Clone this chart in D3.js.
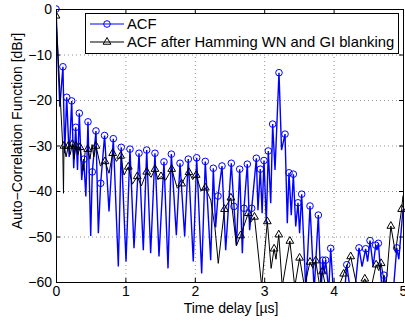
<!DOCTYPE html>
<html lang="en">
<head>
	<meta charset="UTF-8">
	<title>ACF</title>
	<script src="https://cdn.jsdelivr.net/npm/d3@7/dist/d3.min.js"></script>
	<style>
		body { margin: 0; background: #fff; }
		text { font-family: "Liberation Sans", Arial, sans-serif; font-size: 14px; fill: #000; }
		.legtext { font-size: 14.8px; }
	</style>
</head>
<body>
	<div id="container"></div>
	<script>
		var width = 405, height = 323;

		var xTicks = [0, 1, 2, 3, 4, 5];
		var yTicks = [0, -10, -20, -30, -40, -50, -60];
		var legendLabels = ["ACF", "ACF after Hamming WN and GI blanking"];

		// blue ACF: sampled points (with circles) and in-between points of the line
		var acfMarkT = [0, 0.10, 0.154, 0.226, 0.284, 0.336, 0.40, 0.461, 0.523, 0.576, 0.644, 0.70, 0.826, 0.94, 1.066, 1.196,
			1.307, 1.426, 1.556, 1.662, 1.787, 1.906, 2.027, 2.151, 2.267, 2.334, 2.392, 2.526, 2.565, 2.647, 2.709, 2.757,
			2.82, 2.887, 2.944, 2.997, 3.059, 3.122, 3.213, 3.30, 3.357, 3.42, 3.487, 3.54, 3.66, 3.78, 3.843, 3.885, 3.958,
			4.19, 4.366, 4.462, 4.525, 4.607, 4.645, 4.726, 4.91];
		var acfMarkV = [0, -12.7, -19.4, -20.2, -26, -22.9, -33, -24.8, -35.8, -26.8, -38.3, -27.8, -28.5, -30.4, -30.8, -31.7,
			-31.0, -31.7, -33.6, -31.9, -33.9, -33.0, -32.7, -33.5, -35.0, -41.1, -34.5, -33.9, -43.4, -35.2, -43.8, -34.1,
			-43.8, -32.8, -35.2, -33.3, -31.2, -25.3, -14.0, -27.5, -36.0, -36.3, -42.6, -40.7, -43.3, -45.3, -55.2, -55.2, -52.6,
			-56.2, -52.5, -52.7, -50.9, -51.9, -51.5, -58.5, -52.5];
		var acfDipT = [0.055, 0.125, 0.19, 0.255, 0.31, 0.37, 0.43, 0.50, 0.61, 0.764, 0.898, 1.009, 1.124, 1.258, 1.364, 1.484,
			1.614, 1.734, 1.854, 1.978, 2.099, 2.229, 2.30, 2.445, 2.60, 2.685, 2.79, 2.91, 2.97, 3.03, 3.094, 3.156, 3.25, 3.333,
			3.39, 3.454, 3.51, 3.6, 3.72, 3.82, 3.865, 3.93, 4.0, 4.1, 4.16, 4.25, 4.30, 4.41, 4.49, 4.57, 4.625, 4.70, 4.77,
			4.86, 4.94, 5.0];
		var acfDipV = [-21.5, -31.7, -32.5, -35, -35.4, -37.6, -41.2, -49.9, -49.3, -44.5, -56.6, -55.5, -52.6, -53, -53.7, -54.4,
			-57, -49.7, -50, -55.5, -58.1, -55.2, -48, -53, -52, -53.7, -48.6, -44.2, -44.9, -47.1, -42.7, -35.4, -31, -47.1,
			-45.3, -47.8, -49.3, -62, -62, -62, -58, -62, -63, -63, -62, -63, -63, -56.6, -55.5, -56.6, -53, -62, -62,
			-62, -55, -44];

		// black ACF after Hamming WN and GI blanking
		var hamMarkT = [0, 0.115, 0.178, 0.235, 0.288, 0.346, 0.457, 0.576, 0.706, 0.817, 0.932, 1.042, 1.171, 1.307, 1.426,
			1.513, 1.667, 1.81, 1.916, 2.02, 2.152, 2.428, 2.52, 2.66, 2.77, 2.86, 3.045, 3.143, 3.21, 3.37, 3.51, 3.66, 3.742,
			3.84, 4.145, 4.246, 4.45, 4.613, 4.685, 4.825, 4.98];
		var hamMarkV = [-1.5, -30.1, -30.1, -29.7, -30.1, -30.4, -30.8, -30.1, -33.5, -31.7, -32.3, -34.7, -36.8, -35.8, -35.2,
			-36.8, -35.2, -38.4, -35.9, -36.5, -39.3, -44.0, -41.5, -49.8, -44.9, -45.7, -46.7, -52.7, -49.6, -51.0, -54.7, -55.6, -55.3,
			-57.7, -58.2, -54.4, -59.3, -56.2, -55.9, -47.7, -44.0];
		var hamDipT = [0.097, 0.108, 0.145, 0.205, 0.26, 0.315, 0.39, 0.42, 0.49, 0.52, 0.545, 0.64, 0.764, 0.87, 0.98, 1.10, 1.23,
			1.37, 1.47, 1.58, 1.748, 1.86, 1.97, 2.09, 2.23, 2.29, 2.338, 2.60, 2.80, 2.964, 3.10, 3.17, 3.26, 3.44, 3.58, 3.70,
			3.80, 3.90, 4.05, 4.35, 4.53, 4.65, 4.75, 4.89, 5.0];
		var hamDipV = [-30, -40.5, -32.5, -32, -33, -32, -35.5, -31.5, -33, -29.8, -32.5, -34.5, -36.1, -33.5, -36.5, -38.5, -38.9,
			-37, -37.5, -37.6, -39.4, -37, -37.5, -40, -42, -48, -55.9, -52, -47, -61, -57, -55, -61, -61, -61, -57,
			-61, -62, -62, -62, -62, -57.5, -62, -53.5, -41];

		var margin = {left: 56, right: 403, top: 9, bottom: 282};

		var svg = d3.select("#container").append("svg")
				.attr("width", width)
				.attr("height", height);

		var x = d3.scaleLinear().domain([0, 5]).range([margin.left, margin.right]);
		var y = d3.scaleLinear().domain([-60, 0]).range([margin.bottom, margin.top]);

		svg.append("clipPath").attr("id", "clip")
			.append("rect")
				.attr("x", margin.left).attr("y", margin.top - 5)
				.attr("width", margin.right - margin.left + 4)
				.attr("height", margin.bottom - margin.top + 5);

		// grid
		var grid = svg.append("g").attr("stroke", "#777").attr("stroke-width", 0.8).attr("stroke-dasharray", "1,3");
		grid.selectAll(".gx").data(xTicks.slice(1, -1))
			.enter().append("line")
				.attr("x1", d => x(d) + 0.5).attr("x2", d => x(d) + 0.5)
				.attr("y1", margin.top).attr("y2", margin.bottom);
		grid.selectAll(".gy").data(yTicks.slice(1, -1))
			.enter().append("line")
				.attr("y1", d => y(d) + 0.5).attr("y2", d => y(d) + 0.5)
				.attr("x1", margin.left).attr("x2", margin.right);

		function merge(mt, mv, dt, dv) {
			var pts = mt.map((t, i) => [t, mv[i]]).concat(dt.map((t, i) => [t, dv[i]]));
			return pts.sort((a, b) => a[0] - b[0]);
		}

		var line = d3.line().x(d => x(d[0])).y(d => y(d[1]));
		var plot = svg.append("g").attr("clip-path", "url(#clip)");

		plot.append("path")
			.attr("d", line(merge(acfMarkT, acfMarkV, acfDipT, acfDipV)))
			.attr("fill", "none").attr("stroke", "#0000ff").attr("stroke-width", 1.4);
		plot.append("path")
			.attr("d", line(merge(hamMarkT, hamMarkV, hamDipT, hamDipV)))
			.attr("fill", "none").attr("stroke", "#000").attr("stroke-width", 1);

		var tri = d3.symbol().type(d3.symbolTriangle).size(26);

		plot.selectAll(".ham").data(hamMarkT)
			.enter().append("path")
				.attr("d", tri)
				.attr("transform", (d, i) => "translate(" + x(d) + "," + y(hamMarkV[i]) + ")")
				.attr("fill", "none").attr("stroke", "#000").attr("stroke-width", 1);
		plot.selectAll(".acf").data(acfMarkT)
			.enter().append("circle")
				.attr("cx", d => x(d))
				.attr("cy", (d, i) => y(acfMarkV[i]))
				.attr("r", 3.3)
				.attr("fill", "none").attr("stroke", "#0000ff").attr("stroke-width", 1);

		// frame
		svg.append("rect")
			.attr("x", margin.left + 0.5).attr("y", margin.top + 0.5)
			.attr("width", margin.right - margin.left).attr("height", margin.bottom - margin.top)
			.attr("fill", "none").attr("stroke", "#000").attr("stroke-width", 1);

		// ticks inward on all sides
		var ticks = svg.append("g").attr("stroke", "#000").attr("stroke-width", 1);
		xTicks.forEach(function(t) {
			ticks.append("line").attr("x1", x(t) + 0.5).attr("x2", x(t) + 0.5).attr("y1", margin.bottom).attr("y2", margin.bottom - 4);
			ticks.append("line").attr("x1", x(t) + 0.5).attr("x2", x(t) + 0.5).attr("y1", margin.top).attr("y2", margin.top + 4);
		});
		yTicks.forEach(function(t) {
			ticks.append("line").attr("y1", y(t) + 0.5).attr("y2", y(t) + 0.5).attr("x1", margin.left).attr("x2", margin.left + 4);
			ticks.append("line").attr("y1", y(t) + 0.5).attr("y2", y(t) + 0.5).attr("x1", margin.right).attr("x2", margin.right - 4);
		});

		svg.selectAll(".xl").data(xTicks)
			.enter().append("text")
				.attr("x", d => x(d) + 0.5).attr("y", margin.bottom + 14)
				.attr("text-anchor", "middle")
				.text(d => d);
		svg.selectAll(".yl").data(yTicks)
			.enter().append("text")
				.attr("x", margin.left - 4).attr("y", d => y(d) + 5)
				.attr("text-anchor", "end")
				.text(d => d === 0 ? "0" : "\u2212" + Math.abs(d));

		svg.append("text")
			.attr("x", 231).attr("y", 313)
			.attr("text-anchor", "middle")
			.text("Time delay [\u00b5s]");
		svg.append("text")
			.attr("transform", "translate(22,131) rotate(-90)")
			.attr("text-anchor", "middle")
			.text("Auto\u2212Correlation Function [dBr]");

		// legend
		var leg = svg.append("g");
		leg.append("rect")
			.attr("x", 85.5).attr("y", 13.5).attr("width", 313).attr("height", 40)
			.attr("fill", "#fff").attr("stroke", "#000").attr("stroke-width", 1);
		var rows = [24, 42];
		leg.append("line").attr("x1", 90).attr("x2", 124).attr("y1", rows[0]).attr("y2", rows[0])
			.attr("stroke", "#0000ff").attr("stroke-width", 1.2);
		leg.append("circle").attr("cx", 107).attr("cy", rows[0]).attr("r", 3.3)
			.attr("fill", "none").attr("stroke", "#0000ff");
		leg.append("line").attr("x1", 90).attr("x2", 124).attr("y1", rows[1]).attr("y2", rows[1])
			.attr("stroke", "#000").attr("stroke-width", 1);
		leg.append("path").attr("d", tri).attr("transform", "translate(107," + rows[1] + ")")
			.attr("fill", "none").attr("stroke", "#000");
		leg.selectAll(".lt").data(legendLabels)
			.enter().append("text")
				.attr("class", "legtext")
				.attr("x", 127).attr("y", (d, i) => rows[i] + 5)
				.text(d => d);
	</script>
</body>
</html>
